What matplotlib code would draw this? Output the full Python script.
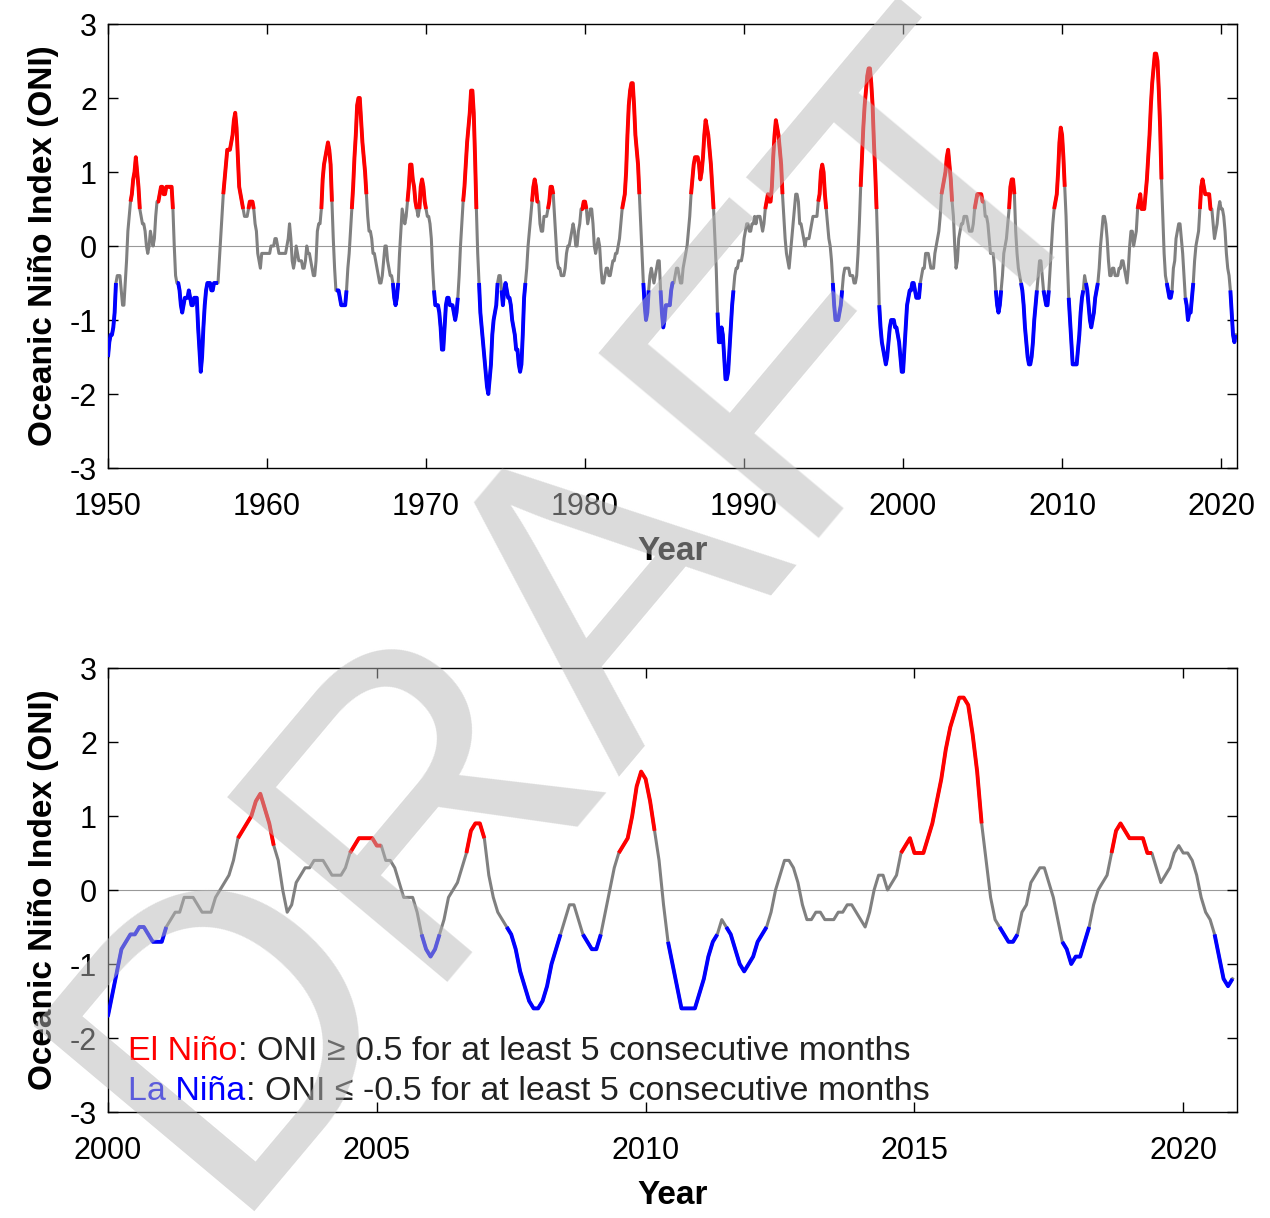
import numpy as np
import matplotlib
matplotlib.use("Agg")
import matplotlib.pyplot as plt

plt.rcParams['font.family'] = ['Liberation Sans', 'DejaVu Sans']
plt.rcParams['axes.unicode_minus'] = False

start_year = 1950
# ONI, 3-month running means (DJF ... NDJ), one row per year
oni_rows = [
    [-1.5, -1.3, -1.2, -1.2, -1.1, -0.9, -0.5, -0.4, -0.4, -0.4, -0.6, -0.8],  # 1950
    [-0.8, -0.5, -0.2, 0.2, 0.4, 0.6, 0.7, 0.9, 1.0, 1.2, 1.0, 0.8],
    [0.5, 0.4, 0.3, 0.3, 0.2, 0.0, -0.1, 0.0, 0.2, 0.1, 0.0, 0.1],
    [0.4, 0.6, 0.6, 0.7, 0.8, 0.8, 0.7, 0.7, 0.8, 0.8, 0.8, 0.8],
    [0.8, 0.5, 0.0, -0.4, -0.5, -0.5, -0.6, -0.8, -0.9, -0.8, -0.7, -0.7],
    [-0.7, -0.6, -0.7, -0.8, -0.8, -0.7, -0.7, -0.7, -1.1, -1.4, -1.7, -1.5],
    [-1.1, -0.8, -0.6, -0.5, -0.5, -0.5, -0.6, -0.6, -0.5, -0.5, -0.5, -0.5],
    [-0.2, 0.1, 0.4, 0.7, 0.9, 1.1, 1.3, 1.3, 1.3, 1.4, 1.5, 1.7],
    [1.8, 1.6, 1.2, 0.8, 0.7, 0.6, 0.5, 0.4, 0.4, 0.4, 0.5, 0.6],
    [0.6, 0.6, 0.5, 0.3, 0.2, -0.1, -0.2, -0.3, -0.1, -0.1, -0.1, -0.1],
    [-0.1, -0.1, -0.1, 0.0, 0.0, 0.0, 0.1, 0.1, 0.0, -0.1, -0.1, -0.1],  # 1960
    [-0.1, -0.1, -0.1, 0.0, 0.1, 0.3, 0.1, -0.2, -0.3, -0.2, 0.0, -0.1],
    [-0.2, -0.2, -0.2, -0.3, -0.3, -0.2, 0.0, -0.1, -0.1, -0.2, -0.3, -0.4],
    [-0.4, -0.2, 0.2, 0.3, 0.3, 0.5, 0.9, 1.1, 1.2, 1.3, 1.4, 1.3],
    [1.1, 0.6, 0.1, -0.3, -0.6, -0.6, -0.6, -0.7, -0.8, -0.8, -0.8, -0.8],
    [-0.6, -0.3, -0.1, 0.2, 0.5, 0.8, 1.2, 1.5, 1.9, 2.0, 2.0, 1.7],
    [1.4, 1.2, 1.0, 0.7, 0.4, 0.2, 0.2, 0.1, -0.1, -0.1, -0.2, -0.3],
    [-0.4, -0.5, -0.5, -0.4, -0.2, 0.0, 0.0, -0.2, -0.3, -0.4, -0.4, -0.5],
    [-0.7, -0.8, -0.7, -0.5, -0.1, 0.2, 0.5, 0.4, 0.3, 0.4, 0.6, 0.8],
    [1.1, 1.1, 0.9, 0.8, 0.6, 0.5, 0.4, 0.5, 0.8, 0.9, 0.8, 0.6],
    [0.5, 0.4, 0.4, 0.3, 0.1, -0.3, -0.6, -0.8, -0.8, -0.8, -0.9, -1.1],  # 1970
    [-1.4, -1.4, -1.1, -0.8, -0.7, -0.7, -0.8, -0.8, -0.8, -0.9, -1.0, -0.9],
    [-0.7, -0.4, 0.0, 0.3, 0.6, 0.8, 1.1, 1.4, 1.6, 1.8, 2.1, 2.1],
    [1.8, 1.2, 0.5, -0.1, -0.5, -0.9, -1.1, -1.3, -1.5, -1.7, -1.9, -2.0],
    [-1.8, -1.6, -1.2, -1.0, -0.9, -0.8, -0.5, -0.4, -0.4, -0.6, -0.8, -0.6],
    [-0.5, -0.6, -0.7, -0.7, -0.8, -1.0, -1.1, -1.2, -1.4, -1.4, -1.6, -1.7],
    [-1.6, -1.2, -0.7, -0.5, -0.3, 0.0, 0.2, 0.4, 0.6, 0.8, 0.9, 0.8],
    [0.6, 0.6, 0.3, 0.2, 0.2, 0.4, 0.4, 0.4, 0.5, 0.6, 0.8, 0.8],
    [0.7, 0.4, 0.1, -0.2, -0.3, -0.3, -0.4, -0.4, -0.4, -0.3, -0.1, 0.0],
    [0.0, 0.1, 0.2, 0.3, 0.2, 0.0, 0.0, 0.2, 0.3, 0.5, 0.5, 0.6],
    [0.6, 0.5, 0.3, 0.4, 0.5, 0.5, 0.3, 0.0, -0.1, 0.0, 0.1, 0.0],  # 1980
    [-0.3, -0.5, -0.5, -0.4, -0.3, -0.3, -0.4, -0.4, -0.3, -0.2, -0.2, -0.1],
    [-0.1, 0.0, 0.1, 0.3, 0.5, 0.6, 0.7, 1.0, 1.5, 1.9, 2.1, 2.2],
    [2.2, 1.9, 1.5, 1.3, 1.1, 0.7, 0.3, -0.1, -0.5, -0.8, -1.0, -0.9],
    [-0.6, -0.4, -0.3, -0.4, -0.5, -0.4, -0.3, -0.2, -0.2, -0.6, -0.9, -1.1],
    [-1.0, -0.8, -0.8, -0.8, -0.8, -0.6, -0.5, -0.5, -0.4, -0.3, -0.3, -0.4],
    [-0.5, -0.5, -0.3, -0.2, -0.1, 0.0, 0.2, 0.4, 0.7, 0.9, 1.1, 1.2],
    [1.2, 1.2, 1.1, 0.9, 1.0, 1.2, 1.5, 1.7, 1.6, 1.5, 1.3, 1.1],
    [0.8, 0.5, 0.1, -0.3, -0.9, -1.3, -1.3, -1.1, -1.2, -1.5, -1.8, -1.8],
    [-1.7, -1.4, -1.1, -0.8, -0.6, -0.4, -0.3, -0.3, -0.2, -0.2, -0.2, -0.1],
    [0.1, 0.2, 0.3, 0.3, 0.2, 0.2, 0.3, 0.3, 0.4, 0.3, 0.4, 0.4],  # 1990
    [0.4, 0.3, 0.2, 0.3, 0.5, 0.6, 0.7, 0.6, 0.6, 0.8, 1.2, 1.5],
    [1.7, 1.6, 1.5, 1.3, 1.1, 0.7, 0.4, 0.1, -0.1, -0.2, -0.3, -0.1],
    [0.1, 0.3, 0.5, 0.7, 0.7, 0.6, 0.3, 0.3, 0.2, 0.1, 0.0, 0.1],
    [0.1, 0.1, 0.2, 0.3, 0.4, 0.4, 0.4, 0.4, 0.6, 0.7, 1.0, 1.1],
    [1.0, 0.7, 0.5, 0.3, 0.1, 0.0, -0.2, -0.5, -0.8, -1.0, -1.0, -1.0],
    [-0.9, -0.8, -0.6, -0.4, -0.3, -0.3, -0.3, -0.3, -0.4, -0.4, -0.4, -0.5],
    [-0.5, -0.4, -0.1, 0.3, 0.8, 1.2, 1.6, 1.9, 2.1, 2.3, 2.4, 2.4],
    [2.2, 1.9, 1.4, 1.0, 0.5, -0.1, -0.8, -1.1, -1.3, -1.4, -1.5, -1.6],
    [-1.5, -1.3, -1.1, -1.0, -1.0, -1.0, -1.1, -1.1, -1.2, -1.3, -1.5, -1.7],
    [-1.7, -1.4, -1.1, -0.8, -0.7, -0.6, -0.6, -0.5, -0.5, -0.6, -0.7, -0.7],  # 2000
    [-0.7, -0.5, -0.4, -0.3, -0.3, -0.1, -0.1, -0.1, -0.2, -0.3, -0.3, -0.3],
    [-0.1, 0.0, 0.1, 0.2, 0.4, 0.7, 0.8, 0.9, 1.0, 1.2, 1.3, 1.1],
    [0.9, 0.6, 0.4, 0.0, -0.3, -0.2, 0.1, 0.2, 0.3, 0.3, 0.4, 0.4],
    [0.4, 0.3, 0.2, 0.2, 0.2, 0.3, 0.5, 0.6, 0.7, 0.7, 0.7, 0.7],
    [0.6, 0.6, 0.4, 0.4, 0.3, 0.1, -0.1, -0.1, -0.1, -0.3, -0.6, -0.8],
    [-0.9, -0.8, -0.6, -0.4, -0.1, 0.0, 0.1, 0.3, 0.5, 0.8, 0.9, 0.9],
    [0.7, 0.2, -0.1, -0.3, -0.4, -0.5, -0.6, -0.8, -1.1, -1.3, -1.5, -1.6],
    [-1.6, -1.5, -1.3, -1.0, -0.8, -0.6, -0.4, -0.2, -0.2, -0.4, -0.6, -0.7],
    [-0.8, -0.8, -0.6, -0.3, 0.0, 0.3, 0.5, 0.6, 0.7, 1.0, 1.4, 1.6],
    [1.5, 1.2, 0.8, 0.4, -0.2, -0.7, -1.0, -1.3, -1.6, -1.6, -1.6, -1.6],  # 2010
    [-1.4, -1.2, -0.9, -0.7, -0.6, -0.4, -0.5, -0.6, -0.8, -1.0, -1.1, -1.0],
    [-0.9, -0.7, -0.6, -0.5, -0.3, 0.0, 0.2, 0.4, 0.4, 0.3, 0.1, -0.2],
    [-0.4, -0.4, -0.3, -0.3, -0.4, -0.4, -0.4, -0.3, -0.3, -0.2, -0.2, -0.3],
    [-0.4, -0.5, -0.3, 0.0, 0.2, 0.2, 0.0, 0.1, 0.2, 0.5, 0.6, 0.7],
    [0.5, 0.5, 0.5, 0.7, 0.9, 1.2, 1.5, 1.9, 2.2, 2.4, 2.6, 2.6],
    [2.5, 2.1, 1.6, 0.9, 0.4, -0.1, -0.4, -0.5, -0.6, -0.7, -0.7, -0.6],
    [-0.3, -0.2, 0.1, 0.2, 0.3, 0.3, 0.1, -0.1, -0.4, -0.7, -0.8, -1.0],
    [-0.9, -0.9, -0.7, -0.5, -0.2, 0.0, 0.1, 0.2, 0.5, 0.8, 0.9, 0.8],
    [0.7, 0.7, 0.7, 0.7, 0.5, 0.5, 0.3, 0.1, 0.2, 0.3, 0.5, 0.6],
    [0.5, 0.5, 0.4, 0.2, -0.1, -0.3, -0.4, -0.6, -0.9, -1.2, -1.3, -1.2],  # 2020
]

oni = np.array(oni_rows).ravel()
t = start_year + np.arange(len(oni)) / 12.0


def episode_mask(v, cond, n=5):
    m = np.zeros(len(v), bool)
    i = 0
    while i < len(v):
        if cond(v[i]):
            j = i
            while j < len(v) and cond(v[j]):
                j += 1
            if j - i >= n:
                m[i:j] = True
            i = j
        else:
            i += 1
    return m


nino = episode_mask(oni, lambda x: x >= 0.5 - 1e-9)
nina = episode_mask(oni, lambda x: x <= -0.5 + 1e-9)


def draw_runs(ax, mask, color):
    idx = np.where(mask)[0]
    if len(idx) == 0:
        return
    splits = np.where(np.diff(idx) > 1)[0] + 1
    for run in np.split(idx, splits):
        ax.plot(t[run], oni[run], color=color, lw=2.8, solid_capstyle='butt', zorder=3)


fig = plt.figure(figsize=(12.7, 12.18), dpi=100)
ax1 = fig.add_axes([108 / 1270, 1 - 468 / 1218, 1129 / 1270, 444 / 1218])
ax2 = fig.add_axes([108 / 1270, 1 - 1112 / 1218, 1129 / 1270, 444 / 1218])

for ax, xlim, xticks in [(ax1, (1950, 2021), np.arange(1950, 2021, 10)),
                         (ax2, (2000, 2021), np.arange(2000, 2021, 5))]:
    ax.axhline(0, color='#999999', lw=0.8, zorder=1)
    ax.plot(t, oni, color='#808080', lw=2.2, zorder=2)
    draw_runs(ax, nino, 'red')
    draw_runs(ax, nina, 'blue')
    ax.set_xlim(*xlim)
    ax.set_ylim(-3, 3)
    ax.set_xticks(xticks)
    ax.set_yticks(np.arange(-3, 4, 1))
    ax.tick_params(direction='in', top=True, right=True, labelsize=22, length=7, width=1)
    ax.tick_params(axis='x', pad=17)
    ax.tick_params(axis='y', pad=8)
    ax.set_ylabel('Oceanic Niño Index (ONI)', fontsize=24, fontweight='bold', labelpad=8)
    ax.set_xlabel('Year', fontsize=24, fontweight='bold', labelpad=10)
    for s in ax.spines.values():
        s.set_linewidth(1)

t1 = ax2.text(0.018, 0.118, 'El Niño', color='red', fontsize=24.5, transform=ax2.transAxes)
ax2.annotate(': ONI ≥ 0.5 for at least 5 consecutive months', xy=(1, 0), xycoords=t1,
             color='#222222', fontsize=24.5, va='bottom')
t2 = ax2.text(0.018, 0.026, 'La Niña', color='blue', fontsize=24.5, transform=ax2.transAxes)
ax2.annotate(': ONI ≤ -0.5 for at least 5 consecutive months', xy=(1, 0), xycoords=t2,
             color='#222222', fontsize=24.5, va='bottom')

# semi-transparent watermark on top
fig.text(0.46, 0.50, 'DRAFT', fontsize=300, fontweight='normal', color='#b8b8b8',
         alpha=0.5, rotation=50, ha='center', va='center', zorder=10)

fig.savefig('out.png', dpi=100)
